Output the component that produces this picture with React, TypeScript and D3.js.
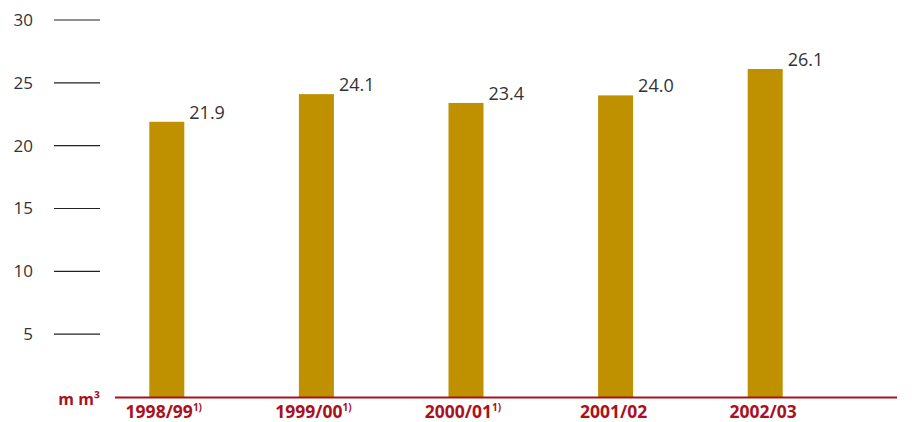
import * as d3 from "d3";
import { useEffect, useRef } from "react";

// years and values (m m³)
const categories = ["1998/99", "1999/00", "2000/01", "2001/02", "2002/03"];
const footnotes = ["1)", "1)", "1)", "", ""];
const values = [21.9, 24.1, 23.4, 24.0, 26.1];
const yTicks = [5, 10, 15, 20, 25, 30];
const unitLabel = "m m³";

const W = 912;
const H = 422;

const App = () => {
  const ref = useRef<SVGSVGElement>(null);

  useEffect(() => {
    const svg = d3.select(ref.current);
    svg.selectAll("*").remove();

    const baseY = 397;
    const y = d3.scaleLinear().domain([0, 30]).range([baseY, 20]);
    const x = d3
      .scaleBand()
      .domain(categories)
      .range([92, 840])
      .paddingInner(0.766)
      .paddingOuter(0.383);

    const font = "'Open Sans', sans-serif";
    const red = "#aa111d";

    // y ticks - short lines with labels
    const yg = svg.append("g");
    yg.selectAll("line")
      .data(yTicks)
      .enter()
      .append("line")
      .attr("x1", 54)
      .attr("x2", 100)
      .attr("y1", (d) => y(d))
      .attr("y2", (d) => y(d))
      .attr("stroke", "#222")
      .attr("stroke-width", 1.2);
    yg.selectAll("text")
      .data(yTicks)
      .enter()
      .append("text")
      .attr("x", 33)
      .attr("y", (d) => y(d))
      .attr("dy", "0.35em")
      .attr("text-anchor", "end")
      .style("font-family", font)
      .style("font-size", "17px")
      .attr("fill", "#333")
      .text((d) => d);

    // bars
    svg.selectAll(".bar")
      .data(values)
      .enter()
      .append("rect")
      .attr("x", (d, i) => x(categories[i])!)
      .attr("y", (d) => y(d))
      .attr("width", x.bandwidth())
      .attr("height", (d) => baseY - y(d))
      .attr("fill", "#bf9000");

    // value labels
    svg.selectAll(".val")
      .data(values)
      .enter()
      .append("text")
      .attr("x", (d, i) => x(categories[i])! + x.bandwidth() + 5)
      .attr("y", (d) => y(d) - 3)
      .style("font-family", font)
      .style("font-size", "18px")
      .attr("fill", "#333")
      .text((d) => d.toFixed(1));

    // baseline
    svg.append("line")
      .attr("x1", 115)
      .attr("x2", 897)
      .attr("y1", baseY + 0.5)
      .attr("y2", baseY + 0.5)
      .attr("stroke", red)
      .attr("stroke-width", 2);

    // category labels
    const lab = svg.selectAll(".cat")
      .data(categories)
      .enter()
      .append("text")
      .attr("x", (d, i) => x(d)! + x.bandwidth() / 2 + (footnotes[i] ? -3 : -2))
      .attr("y", 418)
      .attr("text-anchor", "middle")
      .style("font-family", font)
      .style("font-size", "17.5px")
      .style("font-weight", "bold")
      .attr("fill", red);
    lab.append("tspan").text((d) => d);
    lab.append("tspan")
      .attr("dy", -7)
      .style("font-size", "10px")
      .text((d, i) => footnotes[i]);

    // unit
    svg.append("text")
      .attr("x", 100)
      .attr("y", 405)
      .attr("text-anchor", "end")
      .style("font-family", font)
      .style("font-size", "16px")
      .style("font-weight", "bold")
      .attr("fill", red)
      .text(unitLabel);
  }, []);

  return (
    <svg
      ref={ref}
      width={W}
      height={H}
      style={{ position: "absolute", left: 0, top: 0, background: "#fff" }}
    />
  );
};

export default App;
